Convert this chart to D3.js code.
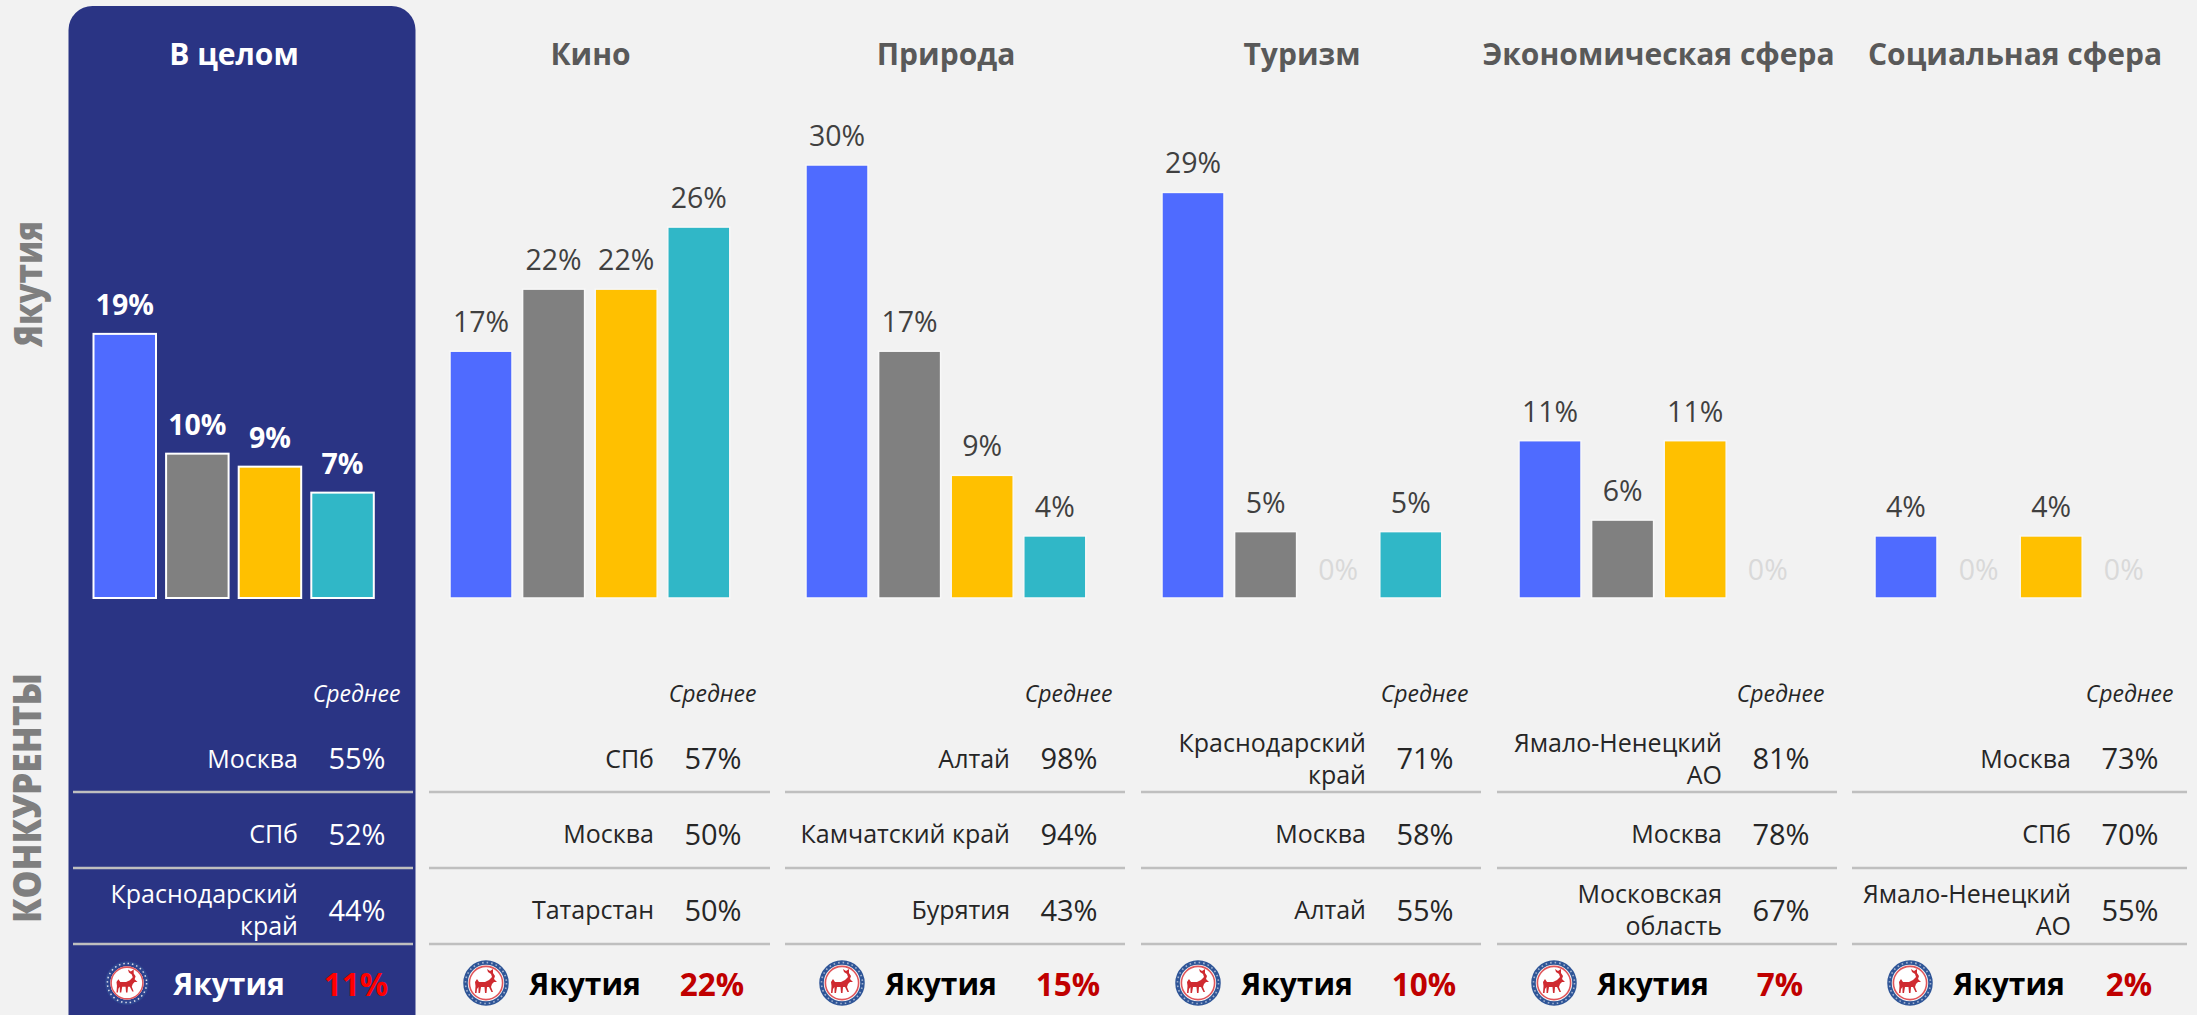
<!DOCTYPE html>
<html><head><meta charset="utf-8">
<script src="https://cdn.jsdelivr.net/npm/d3@7/dist/d3.min.js"></script>
<style>html,body{margin:0;padding:0;background:#f2f2f2;overflow:hidden}svg{display:block}text{font-family:"Open Sans",sans-serif}</style>
</head><body><svg id="c" width="2197" height="1015"></svg>
<script>
const titles=["В целом","Кино","Природа","Туризм","Экономическая сфера","Социальная сфера"];
const seriesKeys=["a","b","c","d"];
const seriesColors=["#4f6bff","#808080","#ffc000","#30b7c7"];
const overall=[18.3,10.0,9.1,7.3];
const kino=[17.1,21.4,21.4,25.7];
const priroda=[30,17.1,8.5,4.3];
const turizm=[28.1,4.6,0,4.6];
const econ=[10.9,5.4,10.9,0];
const social=[4.3,0,4.3,0];
const columns=[overall,kino,priroda,turizm,econ,social];
const overallLabels=[19,10,9,7];
const kinoLabels=[17,22,22,26];
const prirodaLabels=[30,17,9,4];
const turizmLabels=[29,5,0,5];
const econLabels=[11,6,11,0];
const socialLabels=[4,0,4,0];
const columnLabels=[overallLabels,kinoLabels,prirodaLabels,turizmLabels,econLabels,socialLabels];
const compNames=[
 [["Москва"],["СПб"],["Краснодарский","край"]],
 [["СПб"],["Москва"],["Татарстан"]],
 [["Алтай"],["Камчатский край"],["Бурятия"]],
 [["Краснодарский","край"],["Москва"],["Алтай"]],
 [["Ямало-Ненецкий","АО"],["Москва"],["Московская","область"]],
 [["Москва"],["СПб"],["Ямало-Ненецкий","АО"]]];
const compValues=[[55,52,44],[57,50,50],[98,94,43],[71,58,55],[81,78,67],[73,70,55]];
const homeValues=[11,22,15,10,7,2];
const avgLabel="Среднее",homeLabel="Якутия",sideTop="Якутия",sideBottom="КОНКУРЕНТЫ";

const svg=d3.select("#c");
const y=d3.scaleLinear().domain([0,30]).range([598,165]);
const barStarts=[93.5,450,806,1162,1519,1875];
const tableStarts=[73,429,785,1141,1497,1852];
const tableEnds=[413,770,1125,1481,1837,2187];
const titleX=[234,590.5,946,1302,1658.5,2015];
const pitch=72.6;
const bandFor=bw=>d3.scaleBand().domain(seriesKeys).range([0,3*pitch+bw]).paddingInner((pitch-bw)/pitch).paddingOuter(0);

svg.append("rect").attr("x",68.5).attr("y",6).attr("width",347).attr("height",1040).attr("rx",24).attr("fill","#2a3484");

const side=(t,cx,cy,fs,len)=>svg.append("text").attr("transform",`translate(${cx},${cy}) rotate(-90)`)
 .attr("text-anchor","middle").attr("dominant-baseline","central").attr("font-size",fs).attr("font-weight",800).attr("fill","#7f7f7f")
 .attr("textLength",len).attr("lengthAdjust","spacingAndGlyphs").text(t);
side(sideTop,27,284,38,126);
side(sideBottom,25,798,39,250);

function emblem(g,cx,cy,r,dark){
 const e=g.append("g").attr("transform",`translate(${cx},${cy}) scale(${r/23})`);
 e.append("circle").attr("r",17.5).attr("fill","#fff");
 e.append("circle").attr("r",20.5).attr("fill","none").attr("stroke",dark?"#2f4690":"#2f5597").attr("stroke-width",4.5);
 e.append("circle").attr("r",20.5).attr("fill","none").attr("stroke","#fff").attr("stroke-opacity",dark?.8:.55).attr("stroke-width",1.6).attr("stroke-dasharray","1.6 3");
 e.append("circle").attr("r",16.6).attr("fill","none").attr("stroke","#e0555a").attr("stroke-width",1.6);
 e.append("path").attr("fill","#cf2a30").attr("d","M-11,-1 L-9,-4 L-7,-1 L-1,-1 L3,-3 L6,-6 L5,-9 L2,-11 L1,-14 L4,-12 L7,-14 L7,-10 L9,-7 L8,-4 L11,-1 L8,-1 L6,1 L5,4 L7,9 L5.5,9 L3,4 L1,4 L0.5,10 L-1,10 L-1.5,4 L-5,4 L-6,10 L-7.5,10 L-7.5,4 L-9,6 L-9.5,10 L-11,10 L-10.5,3 Z");
}

columns.forEach((vals,ci)=>{
 const dark=ci===0;
 const g=svg.append("g");
 g.append("text").attr("x",titleX[ci]).attr("y",53).attr("text-anchor","middle").attr("dominant-baseline","central")
  .attr("font-size",30).attr("font-weight",700).attr("fill",dark?"#fff":"#595959").text(titles[ci]);
 const x=bandFor(dark?62.5:62);
 const b=g.append("g").attr("transform",`translate(${barStarts[ci]},0)`);
 const rows=vals.map((v,i)=>({k:seriesKeys[i],v,c:seriesColors[i],l:columnLabels[ci][i]}));
 b.selectAll("rect").data(rows.filter(d=>d.v>0)).join("rect")
  .attr("x",d=>x(d.k)).attr("width",x.bandwidth()).attr("y",d=>y(d.v)).attr("height",d=>y(0)-y(d.v))
  .attr("fill",d=>d.c).attr("stroke",dark?"#fff":"#f8f8f8").attr("stroke-width",dark?2:1.5);
 b.selectAll("text").data(rows).join("text")
  .attr("x",d=>x(d.k)+x.bandwidth()/2).attr("y",d=>y(d.v)-(d.v===0?29:30)).attr("text-anchor","middle").attr("dominant-baseline","central")
  .attr("font-size",28.5).attr("font-weight",dark?700:400)
  .attr("fill",d=>d.v===0?"#d9d9d9":dark?"#fff":"#404040").text(d=>d.l+"%");

 const base=tableStarts[ci];
 const fg=dark?"#fff":"#262626";
 const nudge=ci===5?-7:0;
 const nameR=298+356*ci+nudge;
 const valC=357+356*ci+nudge;
 const avgR=400.5+356*ci+nudge;
 g.append("text").attr("x",avgR).attr("y",693).attr("text-anchor","end").attr("dominant-baseline","central")
  .attr("font-size",23).attr("font-style","italic").attr("fill",fg).text(avgLabel);
 const rowY=[757.5,833,909];
 [792,868,944].forEach(ly=>g.append("line").attr("x1",base).attr("x2",tableEnds[ci]).attr("y1",ly).attr("y2",ly).attr("stroke","#bfbfbf").attr("stroke-width",2.5));
 compNames[ci].forEach((lines,ri)=>{
  lines.forEach((ln,li)=>g.append("text").attr("x",nameR).attr("y",rowY[ri]+(li-(lines.length-1)/2)*32).attr("text-anchor","end").attr("dominant-baseline","central")
   .attr("font-size",25).attr("fill",fg).text(ln));
  g.append("text").attr("x",valC).attr("y",rowY[ri]).attr("text-anchor","middle").attr("dominant-baseline","central")
   .attr("font-size",29).attr("fill",fg).text(compValues[ci][ri]+"%");
 });
 emblem(g,ci===0?127:486+356*(ci-1),983,ci===0?22:23,dark);
 g.append("text").attr("x",229+356*ci).attr("y",983).attr("text-anchor","middle").attr("dominant-baseline","central")
  .attr("font-size",30).attr("font-weight",700).attr("fill",dark?"#fff":"#000").text(homeLabel);
 g.append("text").attr("x",356+356*ci+nudge).attr("y",983).attr("text-anchor","middle").attr("dominant-baseline","central")
  .attr("font-size",31.5).attr("font-weight",700).attr("fill",dark?"#ff0000":"#c00000").text(homeValues[ci]+"%");
});
</script></body></html>
